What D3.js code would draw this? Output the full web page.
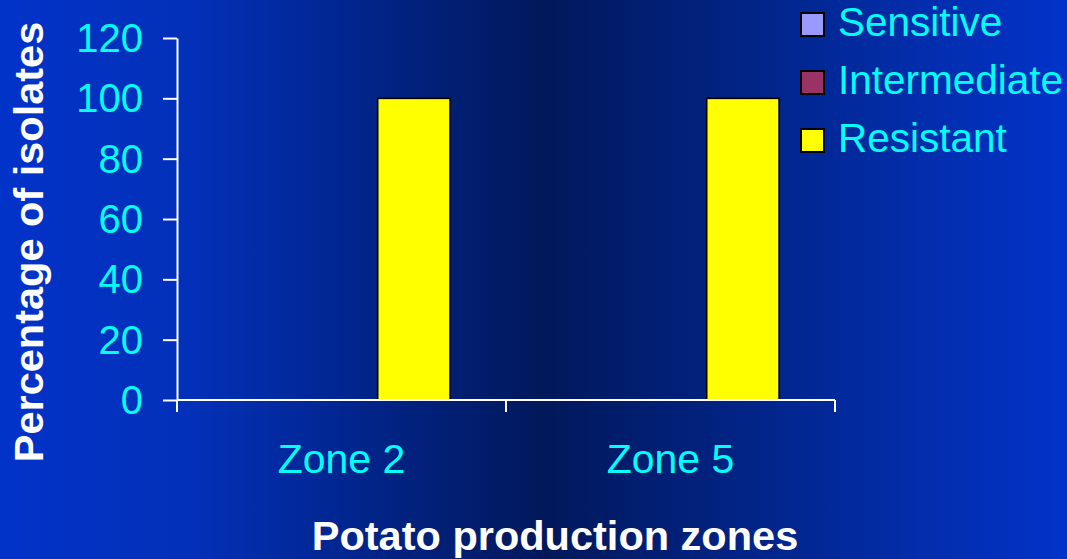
<!DOCTYPE html>
<html>
<head>
<meta charset="utf-8">
<script src="https://cdn.jsdelivr.net/npm/d3@7"></script>
<style>
  html, body { margin: 0; padding: 0; overflow: hidden; }
  svg { display: block; }
  text { font-family: "Liberation Sans", Arial, sans-serif; }
</style>
</head>
<body>
<svg id="chart" width="1067" height="559"></svg>
<script>
// Chart data
const zones = ["Zone 2", "Zone 5"];
const seriesNames = ["Sensitive", "Intermediate", "Resistant"];
const sensitive = [0, 0];
const intermediate = [0, 0];
const resistant = [100, 100];
const yTicks = [0, 20, 40, 60, 80, 100, 120];
const seriesColors = ["#9999ff", "#993366", "#ffff00"];

const seriesValues = [sensitive, intermediate, resistant];
const rows = zones.map((z, i) => ({
  zone: z,
  values: seriesNames.map((s, k) => ({ series: s, value: seriesValues[k][i], color: seriesColors[k] }))
}));

const W = 1067, H = 559;
const svg = d3.select("#chart");

// Background: bright blue at the edges, deep navy in the middle
const defs = svg.append("defs");
const grad = defs.append("linearGradient").attr("id", "bg").attr("x1", "0%").attr("x2", "100%").attr("y1", "0%").attr("y2", "0%");
grad.append("stop").attr("offset", "0%").attr("stop-color", "#0233c9");
grad.append("stop").attr("offset", "18%").attr("stop-color", "#0230b8");
grad.append("stop").attr("offset", "51%").attr("stop-color", "#01185a");
grad.append("stop").attr("offset", "80%").attr("stop-color", "#022a9e");
grad.append("stop").attr("offset", "100%").attr("stop-color", "#0233c9");
svg.append("rect").attr("width", W).attr("height", H).attr("fill", "url(#bg)");

const plot = { left: 177, right: 835, top: 38, bottom: 400 };

const y = d3.scaleLinear().domain([0, 120]).range([plot.bottom, plot.top]);
const pIn = 0.34;
const x0 = d3.scaleBand().domain(zones).range([plot.left, plot.right]).paddingInner(pIn).paddingOuter(pIn / 2);
const x1 = d3.scaleBand().domain(seriesNames).range([0, x0.bandwidth()]);

// Bars
const groups = svg.append("g").selectAll("g").data(rows).join("g")
  .attr("transform", d => `translate(${x0(d.zone)},0)`);
groups.selectAll("rect").data(d => d.values.filter(v => v.value > 0)).join("rect")
  .attr("x", d => x1(d.series))
  .attr("y", d => y(d.value))
  .attr("width", x1.bandwidth())
  .attr("height", d => y(0) - y(d.value))
  .attr("fill", d => d.color)
  .attr("stroke", "#000")
  .attr("stroke-width", 1.6);

// Y axis
const yAxis = svg.append("g").attr("transform", `translate(${plot.left},0)`)
  .call(d3.axisLeft(y).tickValues(yTicks).tickSize(14).tickSizeOuter(0).tickPadding(20));
yAxis.select(".domain").attr("stroke", "#fff").attr("stroke-width", 2);
yAxis.selectAll(".tick line").attr("stroke", "#fff").attr("stroke-width", 2);
yAxis.selectAll(".tick text").attr("fill", "#00ffff").attr("font-size", 40)
  .attr("font-family", "'Liberation Sans', Arial, sans-serif").attr("dy", "0.34em");

// X axis: baseline with ticks at category boundaries
const xAxis = svg.append("g").attr("transform", `translate(0,${plot.bottom})`);
xAxis.append("line").attr("x1", plot.left).attr("x2", plot.right).attr("y1", 0).attr("y2", 0)
  .attr("stroke", "#fff").attr("stroke-width", 2);
const boundaries = d3.range(zones.length + 1).map(i => plot.left + i * x0.step());
xAxis.selectAll("line.bt").data(boundaries).join("line").attr("class", "bt")
  .attr("x1", d => d).attr("x2", d => d).attr("y1", 0).attr("y2", 12)
  .attr("stroke", "#fff").attr("stroke-width", 2);
xAxis.selectAll("text.cat").data(zones).join("text").attr("class", "cat")
  .attr("x", d => x0(d) + x0.bandwidth() / 2)
  .attr("y", 73)
  .attr("text-anchor", "middle")
  .attr("fill", "#00ffff").attr("font-size", 41)
  .text(d => d);

// Axis titles
svg.append("text")
  .attr("transform", `translate(43,242) rotate(-90)`)
  .attr("text-anchor", "middle")
  .attr("fill", "#fff").attr("font-weight", "bold").attr("font-size", 41.5)
  .text("Percentage of isolates");
svg.append("text")
  .attr("x", 555).attr("y", 550)
  .attr("text-anchor", "middle")
  .attr("fill", "#fff").attr("font-weight", "bold").attr("font-size", 41.5)
  .text("Potato production zones");

// Legend
const legend = svg.append("g").attr("transform", "translate(801,13)");
const li = legend.selectAll("g").data(seriesNames).join("g")
  .attr("transform", (d, i) => `translate(0,${i * 58})`);
li.append("rect").attr("width", 23).attr("height", 23)
  .attr("fill", (d, i) => seriesColors[i]).attr("stroke", "#000").attr("stroke-width", 2);
li.append("text").attr("x", 37).attr("y", 23)
  .attr("fill", "#00ffff").attr("font-size", 40.5)
  .text(d => d);
</script>
</body>
</html>
